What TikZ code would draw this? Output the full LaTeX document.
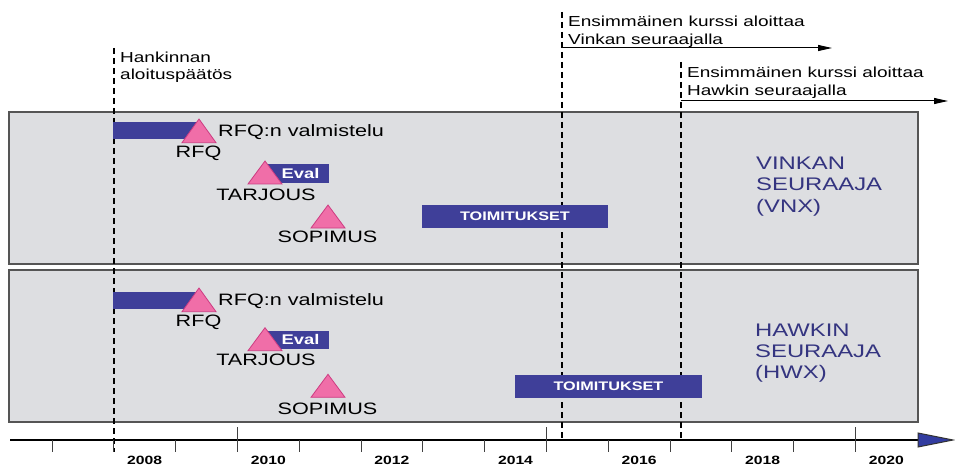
\documentclass[tikz,border=0pt]{standalone}
\usepackage{fontspec}
\setmainfont{Liberation Sans}[FakeStretch=1.31]
\usetikzlibrary{arrows.meta}
\definecolor{panelfill}{RGB}{221,222,225}
\definecolor{paneldraw}{RGB}{85,85,85}
\definecolor{barblue}{RGB}{63,63,153}
\definecolor{pinkfill}{RGB}{240,110,168}
\definecolor{pinkdraw}{RGB}{205,60,130}
\definecolor{titleblue}{RGB}{52,52,128}
\definecolor{arrowblue}{RGB}{50,60,160}
\tikzset{
  panel/.style={draw=paneldraw, fill=panelfill, line width=1.5pt, inner sep=0pt, minimum width=909pt, minimum height=152pt},
  bar/.style={fill=barblue, draw=none, inner sep=0pt, text=white, font=\fontsize{12.4}{14}\selectfont\bfseries},
  tri/.style={fill=pinkfill, draw=pinkdraw, line width=0.8pt, line join=miter},
  lbl/.style={inner sep=0pt, anchor=base, font=\fontsize{16.5}{18}\selectfont},
  lblw/.style={inner sep=0pt, anchor=base west, font=\fontsize{16.5}{18}\selectfont},
  ann/.style={inner sep=0pt, anchor=base west, font=\fontsize{14.5}{17}\selectfont},
  ttl/.style={inner sep=0pt, anchor=base west, text=titleblue, font=\fontsize{18.2}{21}\selectfont},
  yr/.style={inner sep=0pt, anchor=base, font=\fontsize{12}{14}\selectfont\bfseries},
  dashline/.style={line width=2pt, dash pattern=on 6pt off 4pt},
  evaltxt/.style={inner sep=0pt, text=white, font=\fontsize{14}{16}\selectfont\bfseries},
}
\begin{document}
\begin{tikzpicture}[x=1pt,y=-1pt]
\useasboundingbox (0,0) rectangle (955,465);
% panels
\node[panel] (p1) at (463.5,188) {};
\node[panel] (p2) at (463.5,346) {};
% dashed lines
\coordinate (h1) at (114,48); \coordinate (h2) at (114,452);
\coordinate (v1) at (562,12); \coordinate (v2) at (562,440);
\coordinate (w1) at (681,62); \coordinate (w2) at (681,440);
\draw[dashline] (h1) -- (h2);
\draw[dashline] (v1) -- (v2);
\draw[dashline] (w1) -- (w2);
% annotation arrows
\coordinate (va) at (562,48); \coordinate (vb) at (832,48);
\coordinate (wa) at (681,101); \coordinate (wb) at (948,101);
\draw[line width=1pt, -{Triangle[length=14pt,width=6pt]}] (va) -- (vb);
\draw[line width=1pt, -{Triangle[length=14pt,width=6pt]}] (wa) -- (wb);
\node[ann] (vt1) at (568,27) {Ensimmäinen kurssi aloittaa};
\node[ann] (vt2) at (568,45) {Vinkan seuraajalla};
\node[ann] (wt1) at (687,78) {Ensimmäinen kurssi aloittaa};
\node[ann] (wt2) at (687,96) {Hawkin seuraajalla};
\node[ann] (ht1) at (120,63) {Hankinnan};
\node[ann] (ht2) at (120,80) {aloituspäätös};
% ---- top panel ----
\node[bar, minimum width=87pt, minimum height=17.5pt] (rfqbar1) at (156.5,130.3) {};
\draw[tri] (182,142.7) -- (199,119) -- (216,142.7) -- cycle;
\node[lblw] (rfqv1) at (218,136.7) {RFQ:n valmistelu};
\node[lbl] (rfq1) at (198.5,157.4) {RFQ};
\node[bar, minimum width=63pt, minimum height=19pt] (evalbar1) at (297.5,173.5) {};
\draw[tri] (248,184) -- (265,161) -- (282,184) -- cycle;
\node[evaltxt] (eval1) at (300.5,173.5) {Eval};
\node[lbl] (tarj1) at (266,200.7) {TARJOUS};
\draw[tri] (311,228) -- (328,205) -- (345,228) -- cycle;
\node[lbl] (sop1) at (327.5,242.7) {SOPIMUS};
\node[bar, minimum width=186pt, minimum height=23pt] (toim1) at (515,216) {TOIMITUKSET};
\node[ttl] (vnx1) at (756,169.6) {VINKAN};
\node[ttl] (vnx2) at (756,190.6) {SEURAAJA};
\node[ttl] (vnx3) at (756,212.6) {(VNX)};
% ---- bottom panel ----
\node[bar, minimum width=87pt, minimum height=17pt] (rfqbar2) at (156.5,300.7) {};
\draw[tri] (182,311.7) -- (199,288) -- (216,311.7) -- cycle;
\node[lblw] (rfqv2) at (218,305.7) {RFQ:n valmistelu};
\node[lbl] (rfq2) at (198.5,326.7) {RFQ};
\node[bar, minimum width=63pt, minimum height=18.5pt] (evalbar2) at (297.5,339.8) {};
\draw[tri] (248,350.7) -- (265,327.7) -- (282,350.7) -- cycle;
\node[evaltxt] (eval2) at (300.5,339.8) {Eval};
\node[lbl] (tarj2) at (266,365.7) {TARJOUS};
\draw[tri] (311,397.3) -- (328,374.3) -- (345,397.3) -- cycle;
\node[lbl] (sop2) at (327.5,414) {SOPIMUS};
\node[bar, minimum width=186.5pt, minimum height=23pt] (toim2) at (608.5,386.5) {TOIMITUKSET};
\node[ttl] (hwx1) at (755,336.6) {HAWKIN};
\node[ttl] (hwx2) at (755,357.6) {SEURAAJA};
\node[ttl] (hwx3) at (755,378.6) {(HWX)};
% ---- axis ----
\coordinate (axs) at (10,440); \coordinate (axe) at (919,440);
\draw[line width=2pt] (axs) -- (axe);
\draw[fill=arrowblue, draw=black!80, line width=1pt, line join=miter] (918,433) -- (953,440) -- (918,447) -- cycle;
\foreach \i in {0,...,13} {
  \pgfmathsetmacro{\xx}{52+61.8*\i}
  \draw[line width=1pt, black!75] (\xx,440) -- (\xx,452);
}
\foreach \i in {3,8,13} {
  \pgfmathsetmacro{\xx}{52+61.8*\i}
  \draw[line width=1pt, black!75] (\xx,427) -- (\xx,440);
}
\foreach \y [count=\k from 0] in {2008,2010,2012,2014,2016,2018,2020} {
  \pgfmathsetmacro{\xx}{52+61.8*(1+2*\k)+30.9}
  \node[yr] (y\y) at (\xx,464) {\y};
}
\end{tikzpicture}
\end{document}
